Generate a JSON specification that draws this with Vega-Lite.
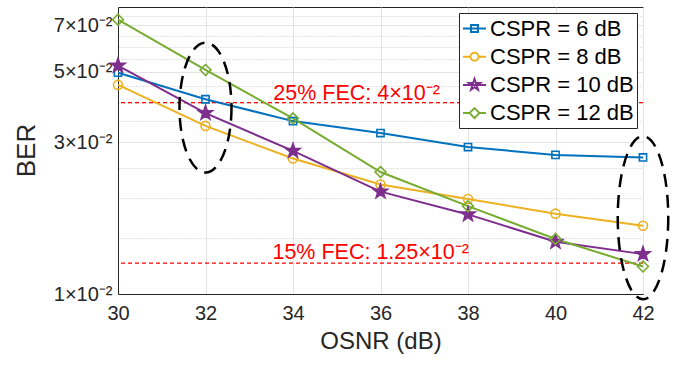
{
  "$schema": "https://vega.github.io/schema/vega-lite/v6.json",
  "width": 525,
  "height": 287,
  "autosize": "none",
  "padding": {"left": 118, "top": 7, "right": 34, "bottom": 71},
  "background": "white",
  "config": {
    "font": "Liberation Sans",
    "view": {"stroke": "#262626", "strokeWidth": 1},
    "axis": {"domainColor": "#262626", "labelColor": "#262626", "titleColor": "#262626", "labelFont": "Liberation Sans", "titleFont": "Liberation Sans", "titleFontWeight": "normal"}
  },
  "datasets": {
    "ber": [
      {"osnr": 30, "ber": 0.0497, "series": "CSPR = 6 dB"},
      {"osnr": 32, "ber": 0.0410, "series": "CSPR = 6 dB"},
      {"osnr": 34, "ber": 0.0350, "series": "CSPR = 6 dB"},
      {"osnr": 36, "ber": 0.0321, "series": "CSPR = 6 dB"},
      {"osnr": 38, "ber": 0.0290, "series": "CSPR = 6 dB"},
      {"osnr": 40, "ber": 0.0274, "series": "CSPR = 6 dB"},
      {"osnr": 42, "ber": 0.0269, "series": "CSPR = 6 dB"},
      {"osnr": 30, "ber": 0.0455, "series": "CSPR = 8 dB"},
      {"osnr": 32, "ber": 0.0338, "series": "CSPR = 8 dB"},
      {"osnr": 34, "ber": 0.0267, "series": "CSPR = 8 dB"},
      {"osnr": 36, "ber": 0.0221, "series": "CSPR = 8 dB"},
      {"osnr": 38, "ber": 0.0199, "series": "CSPR = 8 dB"},
      {"osnr": 40, "ber": 0.0179, "series": "CSPR = 8 dB"},
      {"osnr": 42, "ber": 0.0164, "series": "CSPR = 8 dB"},
      {"osnr": 30, "ber": 0.0523, "series": "CSPR = 10 dB"},
      {"osnr": 32, "ber": 0.0371, "series": "CSPR = 10 dB"},
      {"osnr": 34, "ber": 0.0282, "series": "CSPR = 10 dB"},
      {"osnr": 36, "ber": 0.0210, "series": "CSPR = 10 dB"},
      {"osnr": 38, "ber": 0.0178, "series": "CSPR = 10 dB"},
      {"osnr": 40, "ber": 0.0146, "series": "CSPR = 10 dB"},
      {"osnr": 42, "ber": 0.01335, "series": "CSPR = 10 dB"},
      {"osnr": 30, "ber": 0.0730, "series": "CSPR = 12 dB"},
      {"osnr": 32, "ber": 0.0507, "series": "CSPR = 12 dB"},
      {"osnr": 34, "ber": 0.0357, "series": "CSPR = 12 dB"},
      {"osnr": 36, "ber": 0.0242, "series": "CSPR = 12 dB"},
      {"osnr": 38, "ber": 0.0189, "series": "CSPR = 12 dB"},
      {"osnr": 40, "ber": 0.0149, "series": "CSPR = 12 dB"},
      {"osnr": 42, "ber": 0.0122, "series": "CSPR = 12 dB"}
    ],
    "fec": [
      {"limit": 0.04, "osnr": 33.55, "labelY": 0.0409, "text": "25% FEC: 4×10⁻²"},
      {"limit": 0.0125, "osnr": 33.53, "labelY": 0.01285, "text": "15% FEC: 1.25×10⁻²"}
    ]
  },
  "layer": [
    {
      "data": {"name": "fec"},
      "mark": {"type": "rule", "color": "#FF0000", "strokeWidth": 1.3, "strokeDash": [4, 3]},
      "encoding": {
        "y": {"field": "limit", "type": "quantitative", "scale": {"type": "log", "domain": [0.01, 0.08], "nice": false}}
      }
    },
    {
      "data": {"name": "fec"},
      "mark": {"type": "text", "color": "#FF0000", "fontSize": 21.5, "align": "left", "baseline": "alphabetic", "font": "Liberation Sans"},
      "encoding": {
        "x": {"field": "osnr", "type": "quantitative"},
        "y": {"field": "labelY", "type": "quantitative"},
        "text": {"field": "text"}
      }
    },
    {
      "data": {"name": "ber"},
      "mark": {"type": "line", "strokeWidth": 2},
      "encoding": {
        "x": {
          "field": "osnr", "type": "quantitative",
          "scale": {"domain": [30, 42], "nice": false, "zero": false},
          "axis": {"values": [30, 32, 34, 36, 38, 40, 42], "title": "OSNR (dB)", "titleFontSize": 24, "labelFontSize": 20, "ticks": false, "labelPadding": 9, "titlePadding": 6, "gridColor": "#e3e3e3", "labelFlush": false}
        },
        "y": {
          "field": "ber", "type": "quantitative",
          "scale": {"type": "log", "domain": [0.01, 0.08], "nice": false},
          "axis": {
            "values": [0.01, 0.015, 0.02, 0.025, 0.03, 0.035, 0.04, 0.045, 0.05, 0.055, 0.06, 0.065, 0.07, 0.075],
            "labelExpr": "round(datum.value*1000) % 20 == 10 ? round(datum.value*100) + '×10⁻²' : ''",
            "title": "BER", "titleFontSize": 26, "labelFontSize": 20, "ticks": false, "labelPadding": 6,
            "titleX": -92, "titleY": 143, "titleBaseline": "middle",
            "gridColor": {"condition": {"test": "round(datum.value*1000) % 20 == 10", "value": "#e3e3e3"}, "value": "#c8c8c8"},
            "gridDash": {"condition": {"test": "round(datum.value*1000) % 20 == 10", "value": []}, "value": [1, 2]},
            "labelFlush": false
          }
        },
        "color": {
          "field": "series", "type": "nominal",
          "scale": {"domain": ["CSPR = 6 dB", "CSPR = 8 dB", "CSPR = 10 dB", "CSPR = 12 dB"], "range": ["#0072BD", "#EDB120", "#7E2F8E", "#77AC30"]},
          "legend": null
        }
      }
    },
    {
      "data": {"name": "ber"},
      "mark": {"type": "point", "opacity": 1, "strokeWidth": 1.6, "size": 81},
      "encoding": {
        "x": {"field": "osnr", "type": "quantitative"},
        "y": {"field": "ber", "type": "quantitative"},
        "shape": {
          "field": "series", "type": "nominal",
          "scale": {"domain": ["CSPR = 6 dB", "CSPR = 8 dB", "CSPR = 10 dB", "CSPR = 12 dB"],
            "range": ["M-0.8,-0.8H0.8V0.8H-0.8Z", "circle", "M0,-1.65L0.388,-0.535L1.569,-0.51L0.627,0.205L0.97,1.335L0,0.66L-0.97,1.335L-0.627,0.205L-1.569,-0.51L-0.388,-0.535Z", "M0,-1.2L1.2,0L0,1.2L-1.2,0Z"]},
          "legend": null
        },
        "stroke": {
          "field": "series", "type": "nominal",
          "scale": {"domain": ["CSPR = 6 dB", "CSPR = 8 dB", "CSPR = 10 dB", "CSPR = 12 dB"], "range": ["#0072BD", "#EDB120", "#7E2F8E", "#77AC30"]},
          "legend": null
        },
        "fill": {
          "field": "series", "type": "nominal",
          "scale": {"domain": ["CSPR = 6 dB", "CSPR = 8 dB", "CSPR = 10 dB", "CSPR = 12 dB"], "range": ["transparent", "transparent", "#7E2F8E", "transparent"]},
          "legend": null
        }
      }
    },
    {
      "data": {"values": [{"osnr": 32, "ber": 0.0386}]},
      "mark": {"type": "point", "opacity": 1, "filled": false, "color": "#000000", "strokeWidth": 2.5, "strokeDash": [13, 8], "size": 16900, "shape": "M0.4,0A0.4,1,0,1,1,-0.4,0A0.4,1,0,1,1,0.4,0Z"},
      "encoding": {
        "x": {"field": "osnr", "type": "quantitative"},
        "y": {"field": "ber", "type": "quantitative"}
      }
    },
    {
      "data": {"values": [{"osnr": 42, "ber": 0.01738}]},
      "mark": {"type": "point", "opacity": 1, "filled": false, "color": "#000000", "strokeWidth": 2.5, "strokeDash": [13, 8], "size": 26569, "shape": "M0.31,0A0.31,1,0,1,1,-0.31,0A0.31,1,0,1,1,0.31,0Z"},
      "encoding": {
        "x": {"field": "osnr", "type": "quantitative"},
        "y": {"field": "ber", "type": "quantitative"}
      }
    },
    {
      "data": {"name": "ber"},
      "transform": [{"filter": "false"}],
      "mark": {"type": "point", "opacity": 1, "filled": false, "strokeWidth": 2},
      "encoding": {
        "x": {"field": "osnr", "type": "quantitative"},
        "y": {"field": "ber", "type": "quantitative"},
        "shape": {
          "field": "series", "type": "nominal",
          "scale": {"domain": ["CSPR = 6 dB", "CSPR = 8 dB", "CSPR = 10 dB", "CSPR = 12 dB"],
            "range": ["M-1,0H1M-0.3,-0.3H0.3V0.3H-0.3Z", "M-1,0H-0.35M0.35,0H1M0.35,0A0.35,0.35,0,1,1,-0.35,0A0.35,0.35,0,1,1,0.35,0Z", "M-1,0H1M0,-0.52L0.122,-0.169L0.494,-0.161L0.198,0.065L0.306,0.421L0,0.208L-0.306,0.421L-0.198,0.065L-0.494,-0.161L-0.122,-0.169Z", "M-1,0H-0.43M0.43,0H1M0,-0.43L0.43,0L0,0.43L-0.43,0Z"]},
          "legend": {
            "title": null, "orient": "none", "legendX": 341, "legendY": 6,
            "symbolSize": 529, "symbolStrokeWidth": 2, "labelFontSize": 22, "labelColor": "#000000", "labelFont": "Liberation Sans",
            "labelOffset": 3, "rowPadding": 4.2, "padding": 3, "strokeColor": "#262626", "fillColor": "#FFFFFF", "cornerRadius": 0,
            "labelLimit": 300,
            "encode": {"symbols": {"update": {"fill": {"signal": "datum.value === 'CSPR = 10 dB' ? '#7E2F8E' : 'transparent'"}}}}
          }
        },
        "stroke": {
          "field": "series", "type": "nominal",
          "scale": {"domain": ["CSPR = 6 dB", "CSPR = 8 dB", "CSPR = 10 dB", "CSPR = 12 dB"], "range": ["#0072BD", "#EDB120", "#7E2F8E", "#77AC30"]},
          "legend": {
            "title": null, "orient": "none", "legendX": 341, "legendY": 6,
            "symbolSize": 529, "symbolStrokeWidth": 2, "labelFontSize": 22, "labelColor": "#000000", "labelFont": "Liberation Sans",
            "labelOffset": 3, "rowPadding": 4.2, "padding": 3, "strokeColor": "#262626", "fillColor": "#FFFFFF", "cornerRadius": 0,
            "labelLimit": 300,
            "encode": {"symbols": {"update": {"fill": {"signal": "datum.value === 'CSPR = 10 dB' ? '#7E2F8E' : 'transparent'"}}}}
          }
        }
      }
    }
  ],
  "resolve": {"scale": {"shape": "independent", "stroke": "independent"}}
}
